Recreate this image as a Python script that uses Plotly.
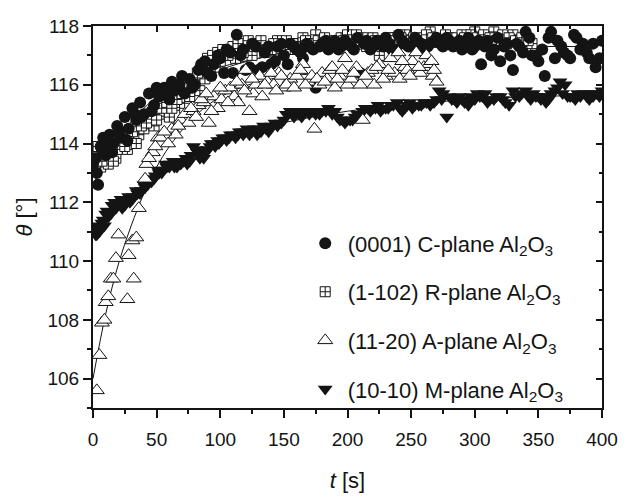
import plotly.graph_objects as go

# ---------------- data ----------------
c_t = [0, 2, 4, 6, 8, 10, 13, 16, 19, 22, 25, 28, 31, 34, 37, 40, 44, 48, 52, 56, 60, 64, 68, 72, 76, 80,
       85, 90, 95, 100, 105, 110, 113, 116,
       120, 125, 130, 135, 140, 145, 150, 155, 160, 165, 170, 175, 180, 185, 190, 195, 200, 205, 210, 215,
       220, 225, 230, 235, 240, 245, 250, 255, 260, 265, 270, 275, 280, 285, 290, 295, 300, 305, 310, 315,
       320, 325, 330, 335, 340, 345, 350, 355, 360, 365, 370, 375, 380, 385, 390, 395, 400,
       3, 7, 11, 15, 20, 27, 33, 38, 46, 50, 58, 62, 70, 78, 83, 88, 93, 98, 103, 108, 118, 123, 128, 133,
       138, 143, 148, 153, 158, 163, 168, 173, 178, 183, 188, 193, 198, 203, 208, 213, 218, 223, 228, 233,
       238, 243, 248, 253, 258, 263, 268, 273, 278, 283, 288, 293, 298, 303, 308, 313, 318, 323, 328, 333,
       338, 343, 348, 353, 358, 363, 368, 373, 378, 383, 388, 393, 398]
c_theta = [113.3, 113.5, 112.6, 113.9, 114.2, 113.6, 114.3, 114.0, 114.6, 114.2,
           114.9, 114.5, 115.2, 114.8, 115.4, 115.0, 115.7, 115.3, 115.6, 115.9,
           115.5, 115.8, 116.0, 115.7, 116.2, 116.0, 116.7, 116.4, 116.7, 116.9,
           117.2, 116.4, 117.7, 117.0, 116.5, 117.4, 116.5, 117.1, 116.7, 117.3,
           117.0, 117.4, 117.2, 116.9, 117.3, 115.9, 117.4, 117.2, 117.5, 117.3,
           117.4, 117.2, 116.4, 117.5, 117.3, 117.4, 117.6, 117.2, 117.7, 117.4,
           117.3, 117.5, 117.2, 117.4, 117.6, 117.3, 117.5, 117.4, 117.2, 117.6,
           117.3, 116.7, 117.5, 117.2, 116.8, 117.4, 116.5, 117.3, 117.8, 117.0,
           116.8, 116.3, 117.8, 117.5, 117.1, 116.9, 117.6, 117.4, 116.9, 116.6, 117.5,
           113.0, 113.8, 114.0, 113.7, 114.4, 114.1, 115.0, 114.9, 115.1, 115.9, 115.8, 116.1,
           116.3, 115.9, 116.5, 116.8, 116.3, 117.0, 116.4, 117.1, 117.2, 116.6, 117.3, 116.6,
           117.3, 116.8, 117.4, 116.7, 117.3, 117.1, 117.4, 117.2, 117.3, 117.5, 117.3, 117.2,
           117.5, 117.3, 117.6, 117.4, 117.2, 117.5, 117.3, 117.4, 117.2, 117.5, 117.3, 117.6,
           117.4, 117.3, 117.5, 117.4, 117.6, 117.3, 117.5, 117.4, 117.2, 117.5, 117.3, 117.0,
           117.6, 117.3, 117.0, 117.4, 117.1, 117.6, 117.0, 117.2, 117.6, 116.9, 117.3, 117.0,
           117.7, 117.2, 117.1, 117.4, 116.9]

r_t = [0, 3, 6, 9, 12, 15, 18, 21, 24, 27, 30, 33, 36,
       40, 44, 48, 52, 56, 60, 64, 68, 72, 76, 80, 84, 88, 92, 96, 100, 104, 108, 112, 116, 120,
       125, 130, 135, 140, 145, 150, 155, 160, 165, 170, 175, 180, 185, 190, 195, 200, 205, 210, 215,
       220, 225, 230, 235, 240, 245, 250, 255, 260, 265, 270, 275, 280, 285, 290, 295, 300, 305, 310,
       315, 320, 325, 330, 335, 340, 345,
       1, 4, 7, 10, 13, 16, 19, 22, 25, 28, 31, 34, 38, 42, 46, 50, 54, 58, 62, 66, 70, 74, 78, 82,
       86, 90, 94, 98, 102, 106, 110, 114, 118, 122, 127, 132, 137, 142, 147, 152, 157, 162, 167, 172,
       177, 182, 187, 192, 197, 202, 207, 212, 217, 222, 227, 232, 237, 242, 247, 252, 257, 262, 267,
       272, 277, 282, 287, 292, 297, 302, 307, 312, 317, 322, 327, 332, 337, 342]
r_theta = [113.8, 113.4, 113.2, 113.6, 113.3, 113.7, 113.5, 113.9, 114.0, 113.8,
           114.1, 114.2, 114.3, 114.5, 114.8, 114.6, 115.0, 115.1, 114.9, 115.3,
           115.4, 115.2, 115.6, 116.0, 115.8, 116.2, 116.4, 116.6, 116.8, 117.0,
           117.2, 116.9, 117.1, 117.3,
           117.0, 117.4, 117.1, 117.2, 117.5, 117.3, 117.2, 117.4, 117.6, 117.3,
           117.7, 117.4, 117.5, 117.3, 117.6, 117.7, 117.4, 117.5, 117.3, 117.6,
           117.0, 117.5, 117.6, 117.4, 117.7, 117.5, 117.4, 117.6, 117.8, 117.5,
           117.4, 117.6, 117.5, 117.7, 117.4, 117.8, 117.6, 117.5, 117.8, 117.6,
           117.4, 117.7, 117.5, 117.3, 117.4,
           113.5, 113.9, 113.4, 113.7, 113.9, 113.4, 113.8, 114.1, 113.9, 114.3, 114.4, 114.0,
           114.6, 114.7, 115.0, 114.8, 115.2, 115.4, 115.2, 115.5, 115.7, 115.9, 116.1, 116.4,
           116.6, 116.9, 117.0, 117.1, 117.2, 117.0, 117.3, 117.4, 117.1, 117.5, 117.3, 117.5,
           117.2, 117.4, 117.3, 117.5, 117.4, 117.3, 117.5, 117.4, 117.5, 117.6, 117.3, 117.4,
           117.5, 117.4, 117.7, 117.6, 117.4, 117.5, 117.3, 117.6, 117.5, 117.6, 117.4, 117.6,
           117.5, 117.7, 117.6, 117.5, 117.7, 117.6, 117.4, 117.6, 117.7, 117.6, 117.7, 117.6,
           117.5, 117.7, 117.6, 117.5, 117.6, 117.5]

a_t = [3, 5, 7, 9, 10, 12, 14, 16, 18, 20, 27, 28, 31, 32, 34, 36, 41, 42, 47, 51, 53, 59, 62, 65,
       69, 72, 75, 79, 83, 87, 91, 95, 98, 101, 104, 108, 111, 114, 117, 120, 123, 126, 128, 131,
       133, 137, 142, 146, 150, 154, 155, 160, 165, 169, 174, 178, 180, 184, 186, 190, 194, 198,
       200, 203, 207, 210, 212, 216, 219, 221, 225, 230, 234, 237, 240, 241, 245, 247, 251, 254,
       257, 260, 262, 264, 267, 270,
       44, 49, 56, 67, 77, 81, 85, 89, 93, 100, 106, 113, 119, 125, 135, 140, 144, 148, 152, 158,
       163, 167, 172, 176, 182, 188, 192, 196, 205, 214, 223, 228, 232, 243, 249, 256, 266, 268]
a_theta = [105.6, 106.8, 107.9, 108.0, 108.6, 108.8, 109.4, 109.4, 110.1, 110.9, 108.7, 110.2,
           110.7, 109.4, 110.8, 111.8, 112.8, 113.3, 113.7, 114.2, 114.2, 114.0, 114.5, 114.3,
           114.8, 115.0, 114.7, 115.1, 115.3, 115.4, 114.7, 115.6, 115.2, 115.5, 115.8, 115.9,
           115.6, 115.4, 116.0, 116.5, 115.1, 115.7, 116.0, 116.3, 115.6, 116.1, 116.0, 116.4,
           115.9, 116.1, 116.2, 116.3, 116.7, 116.1, 114.5, 116.0, 116.4, 116.2, 116.5, 115.9,
           116.3, 116.9, 116.0, 116.2, 116.6, 116.0, 114.8, 116.4, 116.5, 116.0, 116.7, 116.3,
           116.9, 116.4, 117.1, 116.2, 116.6, 116.5, 116.8, 117.1, 116.4, 116.6, 117.0, 116.7,
           116.3, 116.1,
           113.5, 113.9, 114.4, 114.6, 115.2, 114.9, 115.5, 115.7, 115.1, 115.9, 115.4, 116.1,
           115.8, 116.2, 116.0, 116.4, 115.8, 116.3, 116.0, 115.9, 116.5, 116.0, 116.3, 116.2,
           116.1, 116.6, 116.2, 116.5, 116.4, 116.3, 116.6, 116.2, 116.5, 116.8, 116.3, 116.6,
           116.8, 116.5]

m_t = [0, 2, 4, 6, 8, 10, 12, 15, 18, 20, 23, 26, 29, 32, 35, 38, 41, 43, 46, 49, 52, 55, 58, 61,
       64, 67, 71, 74, 77, 79, 82, 85, 87, 90, 93, 96, 99, 102, 105, 108, 112, 115, 118, 121, 125,
       129, 132, 136, 140, 145, 150, 155, 158, 162, 166, 170, 175, 180, 185, 188, 192, 196, 198,
       202, 206, 210, 214, 218, 222, 226, 230, 234, 239, 243, 247, 251, 256, 260, 265, 270, 272,
       275, 278, 282, 286, 290, 295, 298, 302, 306, 310, 315, 320, 324, 327, 330, 335, 340, 344,
       348, 352, 356, 360, 363, 367, 371, 375, 379, 383, 386, 390, 393, 396, 400,
       1, 3, 5, 7, 9, 11, 14, 17, 22, 25, 28, 31, 34, 37, 40, 45, 48, 51, 54, 57, 60, 63, 66, 69,
       73, 76, 81, 84, 89, 92, 95, 98, 101, 104, 107, 110, 114, 117, 120, 123, 127, 131, 134, 138,
       143, 148, 152, 157, 160, 164, 168, 173, 178, 183, 190, 194, 200, 204, 208, 212, 216, 220,
       224, 228, 232, 236, 241, 245, 249, 253, 258, 262, 268, 274, 280, 284, 288, 292, 297, 300,
       304, 308, 312, 317, 322, 332, 337, 342, 346, 350, 354, 358, 365, 369, 373, 377, 381, 388,
       392, 398]
m_theta = [111.0, 110.9, 111.2, 111.1, 111.4, 111.6, 111.5, 111.9, 111.8, 112.0, 111.8, 112.1,
           112.0, 112.2, 112.3, 112.4, 112.5, 112.6, 112.7, 112.9, 113.0, 113.1, 113.2, 113.3,
           113.2, 113.3, 113.4, 113.3, 113.6, 113.9, 113.7, 113.6, 113.5, 113.8, 114.0, 113.9,
           114.0, 114.2, 114.1, 114.3, 114.2, 114.4, 114.3, 114.5, 114.4, 114.3, 114.4, 114.5,
           114.6, 114.6, 114.8, 115.1, 114.9, 115.0, 115.1, 115.0, 115.0, 115.1, 115.2, 115.0,
           114.9, 114.8, 114.7, 114.8, 114.9, 115.0, 115.2, 115.1, 115.2, 115.1, 115.2, 115.3,
           115.4, 115.1, 115.3, 115.2, 115.3, 115.4, 115.3, 115.5, 115.8, 115.7, 114.9, 115.5,
           115.4, 115.5, 115.3, 115.5, 115.7, 115.6, 115.4, 115.5, 115.6, 115.4, 115.3, 115.8,
           115.6, 115.8, 115.5, 115.6, 115.5, 115.4, 115.7, 115.8, 116.1, 116.0, 115.6, 115.5,
           115.6, 115.7, 115.5, 115.6, 115.7, 115.8,
           111.1, 110.9, 111.0, 111.3, 111.2, 111.7, 111.6, 112.0, 112.1, 111.9, 112.2, 112.1,
           112.4, 112.3, 112.6, 112.8, 112.8, 113.1, 113.0, 113.3, 113.2, 113.4, 113.2, 113.3,
           113.5, 113.4, 113.8, 113.5, 113.7, 113.9, 114.0, 114.1, 114.1, 114.2, 114.2, 114.3,
           114.3, 114.4, 114.4, 114.3, 114.5, 114.5, 114.6, 114.4, 114.7, 114.7, 115.0, 115.0,
           115.1, 114.9, 115.1, 115.1, 115.0, 115.1, 115.1, 114.8, 114.8, 114.8, 115.0, 115.1,
           115.2, 115.2, 115.3, 115.2, 115.2, 115.3, 115.2, 115.2, 115.4, 115.3, 115.3, 115.4,
           115.4, 115.5, 115.6, 115.5, 115.6, 115.4, 115.6, 115.5, 115.6, 115.7, 115.5, 115.6,
           115.5, 115.6, 115.7, 115.6, 115.7, 115.6, 115.6, 115.5, 115.9, 115.7, 115.6, 115.6,
           115.7, 115.6, 115.7, 115.6]

# fitted curves
c_fit_t = [0, 20, 40, 60, 80, 100, 130, 160, 200, 250, 300, 380]
c_fit_theta = [112.6, 114.2, 115.2, 115.9, 116.3, 116.6, 116.9, 117.1, 117.2, 117.25, 117.3, 117.3]
r_fit_t = [0, 20, 40, 60, 80, 100, 130, 160, 200, 250, 345]
r_fit_theta = [113.0, 114.0, 114.8, 115.5, 116.0, 116.5, 116.9, 117.2, 117.4, 117.5, 117.55]
a_fit_t = [0, 10, 20, 30, 40, 50, 60, 75, 90, 110, 140, 180, 220, 270]
a_fit_theta = [106.0, 108.2, 109.9, 111.2, 112.3, 113.2, 113.9, 114.7, 115.3, 115.8, 116.2, 116.4, 116.5, 116.5]
m_fit_t = [0, 20, 40, 60, 80, 100, 130, 160, 200, 250, 300, 350, 400]
m_fit_theta = [111.0, 111.9, 112.6, 113.2, 113.7, 114.1, 114.5, 114.8, 115.1, 115.35, 115.5, 115.6, 115.65]

labels = ["(0001) C-plane Al<sub>2</sub>O<sub>3</sub>",
          "(1-102) R-plane Al<sub>2</sub>O<sub>3</sub>",
          "(11-20) A-plane Al<sub>2</sub>O<sub>3</sub>",
          "(10-10) M-plane Al<sub>2</sub>O<sub>3</sub>"]

x_range = [0, 400]
y_range = [105, 118]
x_tickvals = [0, 50, 100, 150, 200, 250, 300, 350, 400]
y_tickvals = [106, 108, 110, 112, 114, 116, 118]

assert len(c_t) == len(c_theta)
assert len(r_t) == len(r_theta)
assert len(a_t) == len(a_theta)
assert len(m_t) == len(m_theta)

INK = "#141414"
FONT = "Liberation Sans, Arial, Helvetica, sans-serif"

fig = go.Figure()

# fit lines
for ft, fth in [(m_fit_t, m_fit_theta), (r_fit_t, r_fit_theta), (c_fit_t, c_fit_theta), (a_fit_t, a_fit_theta)]:
    fig.add_trace(go.Scatter(x=ft, y=fth, mode="lines", line=dict(color=INK, width=1, shape="spline"),
                             showlegend=False, hoverinfo="skip"))

# data (draw order: M, R, C, A on top) ; legend order via legendrank
fig.add_trace(go.Scatter(x=m_t, y=m_theta, mode="markers", name=labels[3], legendrank=4, legendgroup="m",
                         marker=dict(symbol="triangle-down", size=13, color=INK, line=dict(width=0))))
fig.add_trace(go.Scatter(x=r_t, y=r_theta, mode="markers", name=labels[1], legendrank=2, legendgroup="r",
                         marker=dict(symbol="square-cross", size=10, color="white",
                                     line=dict(width=1, color=INK))))
fig.add_trace(go.Scatter(x=c_t, y=c_theta, mode="markers", name=labels[0], legendrank=1, legendgroup="c",
                         marker=dict(symbol="circle", size=12, color=INK, line=dict(width=0))))
fig.add_trace(go.Scatter(x=a_t, y=a_theta, mode="markers", name=labels[2], legendrank=3, legendgroup="a",
                         marker=dict(symbol="triangle-up", size=13, color="white",
                                     line=dict(width=1, color=INK))))

# helper trace for mirrored (inside-tick) top/right axes
fig.add_trace(go.Scatter(x=[None], y=[None], xaxis="x2", yaxis="y2", showlegend=False, hoverinfo="skip"))

# page body adds an 8px offset; figure is sized so the plot lands where the reference has it
fig.update_layout(
    width=618, height=492,
    margin=dict(l=85, r=8, t=11, b=92),
    paper_bgcolor="white", plot_bgcolor="white",
    font=dict(family=FONT, color=INK, size=19),
    showlegend=True,
    legend=dict(x=0.412, y=0.486, xanchor="left", yanchor="top", bgcolor="rgba(0,0,0,0)",
                borderwidth=0, font=dict(size=22, family=FONT, color=INK),
                tracegroupgap=17, itemsizing="trace", traceorder="grouped", itemwidth=35),
    xaxis=dict(range=x_range, tickvals=x_tickvals, ticks="outside", ticklen=8, tickwidth=1.5,
               tickcolor=INK, showline=True, linewidth=2, linecolor=INK, showgrid=False,
               zeroline=False, tickfont=dict(size=19), ticklabeloverflow="allow",
               ticklabelstandoff=5,
               minor=dict(dtick=25, tick0=0, ticks="outside", ticklen=4, tickwidth=1.5, tickcolor=INK,
                          showgrid=False),
               title=dict(text="<i>t</i> [s]", font=dict(size=22), standoff=24)),
    yaxis=dict(range=y_range, tickvals=y_tickvals, ticks="outside", ticklen=8, tickwidth=1.5,
               tickcolor=INK, showline=True, linewidth=2, linecolor=INK, showgrid=False,
               zeroline=False, tickfont=dict(size=19), ticklabeloverflow="allow",
               minor=dict(dtick=1, tick0=105, ticks="outside", ticklen=4, tickwidth=1.5, tickcolor=INK,
                          showgrid=False),
               title=dict(text="<i>θ</i> [°]", font=dict(size=22), standoff=9)),
    xaxis2=dict(range=x_range, overlaying="x", side="top", anchor="y2", tickvals=x_tickvals,
                ticks="inside", ticklen=6, tickwidth=1.5, tickcolor=INK, showticklabels=False,
                showline=True, linewidth=2, linecolor=INK, showgrid=False, zeroline=False,
                minor=dict(dtick=25, tick0=0, ticks="inside", ticklen=3, tickwidth=1.5, tickcolor=INK,
                           showgrid=False)),
    yaxis2=dict(range=y_range, overlaying="y", side="right", anchor="x2", tickvals=y_tickvals,
                ticks="inside", ticklen=6, tickwidth=1.5, tickcolor=INK, showticklabels=False,
                showline=True, linewidth=2, linecolor=INK, showgrid=False, zeroline=False,
                minor=dict(dtick=1, tick0=105, ticks="inside", ticklen=3, tickwidth=1.5, tickcolor=INK,
                           showgrid=False)),
)

fig.write_html("out.html")
